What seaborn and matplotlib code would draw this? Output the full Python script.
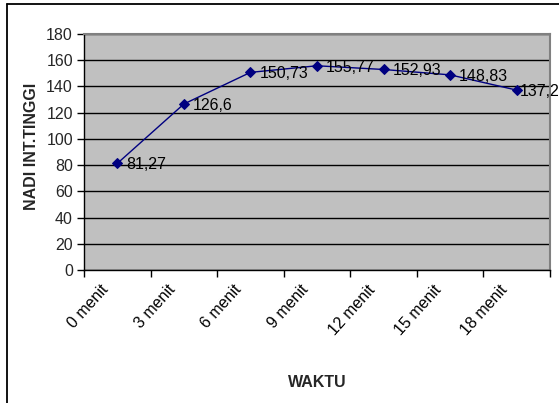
import matplotlib
matplotlib.use("Agg")
import matplotlib.pyplot as plt
from matplotlib.lines import Line2D
from matplotlib.transforms import ScaledTranslation
import numpy as np
import pandas as pd
import seaborn as sns

# Pulse readings over time
waktu = ["0 menit", "3 menit", "6 menit", "9 menit", "12 menit", "15 menit", "18 menit"]
nadi = [81.27, 126.6, 150.73, 155.77, 152.93, 148.83, 137.2]
value_labels = ["81,27", "126,6", "150,73", "155,77", "152,93", "148,83", "137,2"]
y_ticks = [0, 20, 40, 60, 80, 100, 120, 140, 160, 180]

sns.set_theme(style="white")
plt.rcParams["font.family"] = ["Liberation Sans", "DejaVu Sans"]
FS = 11.5

df = pd.DataFrame({"WAKTU": waktu, "NADI": nadi})

fig = plt.figure(figsize=(5.59, 4.03), dpi=100)
fig.patch.set_facecolor("white")
ax = fig.add_axes([84 / 559, 1 - 270 / 403, (550 - 84) / 559, (270 - 34) / 403])
ax.set_facecolor("#C0C0C0")

sns.lineplot(data=df, x="WAKTU", y="NADI", ax=ax, color="#000080", linewidth=1.0,
             marker="D", markersize=5.5, markeredgecolor="#000080",
             markerfacecolor="#000080", sort=False)

# value labels to the right of each point; the last one is pulled in to stay on the page
xpos = np.arange(len(waktu))
for i, (x, v, lab) in enumerate(zip(xpos, nadi, value_labels)):
    dx = 2.5 if i == len(waktu) - 1 else 6.5
    ax.annotate(lab, (x, v), xytext=(dx, -1), textcoords="offset points",
                ha="left", va="center", fontsize=FS, color="black",
                annotation_clip=False)

ax.set_ylim(0, 180)
ax.set_yticks(y_ticks)
ax.set_xlim(-0.5, len(waktu) - 0.5)
# tick marks sit on the category boundaries, names are centred between them
ax.set_xticks(np.arange(len(waktu) + 1) - 0.5)
ax.set_xticklabels([])
label_tf = ax.get_xaxis_transform() + ScaledTranslation(-17 / 100, -12 / 100,
                                                        fig.dpi_scale_trans)
for x, name in zip(xpos, waktu):
    ax.text(x, 0, name, transform=label_tf, rotation=48, ha="right", va="top",
            rotation_mode="anchor", fontsize=FS, color="black", clip_on=False)

ax.grid(axis="y", color="black", linewidth=1.0)
ax.grid(axis="x", visible=False)
ax.set_axisbelow(True)

ax.tick_params(axis="y", which="major", direction="out", length=5, width=1,
               color="black", labelsize=FS, pad=3, left=True)
ax.tick_params(axis="x", which="major", direction="out", length=5, width=1,
               color="black", bottom=True)

for side in ["left", "bottom"]:
    ax.spines[side].set_color("black")
    ax.spines[side].set_linewidth(1.0)
for side in ["top", "right"]:
    ax.spines[side].set_color("#808080")
    ax.spines[side].set_linewidth(1.5)

ax.set_xlabel("WAKTU", fontsize=FS, fontweight="bold", labelpad=0)
ax.xaxis.set_label_coords(0.5, -(375 - 270) / (270 - 34))
ax.set_ylabel("NADI INT.TINGGI", fontsize=FS, fontweight="bold")
ax.yaxis.set_label_coords(-(84 - 39) / (550 - 84), (270 - 146) / (270 - 34))

# chart frame (top and left edges)
fig.add_artist(Line2D([7 / 559, 1], [1 - 4 / 403, 1 - 4 / 403],
                      transform=fig.transFigure, color="black", linewidth=1.3))
fig.add_artist(Line2D([7 / 559, 7 / 559], [0, 1 - 4 / 403],
                      transform=fig.transFigure, color="black", linewidth=1.3))

fig.savefig("out.png", dpi=100, facecolor="white")
